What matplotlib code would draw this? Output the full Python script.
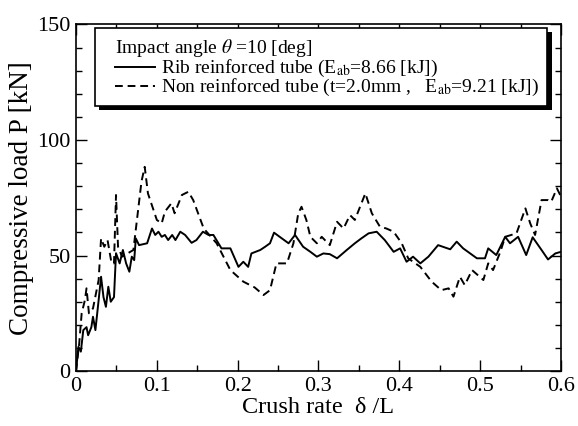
import numpy as np
import matplotlib
matplotlib.use('Agg')
import matplotlib.pyplot as plt
from matplotlib.ticker import MultipleLocator
from matplotlib.patches import Rectangle
from matplotlib.lines import Line2D

plt.rcParams['font.family'] = ['Liberation Serif', 'DejaVu Serif']
plt.rcParams['mathtext.fontset'] = 'stix'

# Rib reinforced tube (solid)
rib_x = [0, 0.003, 0.006, 0.009, 0.013, 0.015, 0.019, 0.021, 0.024, 0.028, 0.031, 0.034,
         0.037, 0.040, 0.043, 0.047, 0.0495, 0.054, 0.058, 0.062, 0.066, 0.069, 0.072, 0.074,
         0.078, 0.088, 0.094, 0.098, 0.102, 0.106, 0.110, 0.114, 0.119, 0.123, 0.129, 0.135,
         0.143, 0.149, 0.157, 0.164, 0.170, 0.180, 0.191, 0.201, 0.207, 0.213, 0.217, 0.228,
         0.234, 0.240, 0.245, 0.252, 0.263, 0.271, 0.281, 0.290, 0.298, 0.306, 0.314, 0.323,
         0.335, 0.345, 0.353, 0.362, 0.372, 0.382, 0.393, 0.401, 0.409, 0.417, 0.426, 0.436,
         0.448, 0.463, 0.471, 0.479, 0.496, 0.506, 0.510, 0.520, 0.531, 0.537, 0.547, 0.557,
         0.565, 0.576, 0.584, 0.593, 0.600]
rib_p = [0, 10.5, 8.4, 17.7, 19, 15.5, 19, 23.5, 17.7, 30.7, 40.8, 32,
         27.8, 36.5, 30, 32, 51, 46.6, 52.4, 46.6, 43, 49.5, 48, 57.4,
         54.5, 55.3, 61.7, 58.9, 60.3, 58.1, 58.9, 56.7, 58.9, 56.7, 60.3, 58.9,
         55.5, 56.7, 60.3, 58.9, 58.9, 53.1, 53.1, 45.1, 47.3, 45.1, 50.9, 52.4,
         53.8, 55.3, 59.9, 58.1, 55.3, 58.9, 53.8, 51.6, 49.5, 50.9, 50.6, 48.8,
         52.4, 55.3, 57.4, 59.6, 60.3, 56.7, 51.6, 53.1, 47.3, 49.5, 46.6, 49.5,
         54.5, 52.7, 56, 53.1, 48.8, 48.8, 53.1, 50.2, 58.1, 55.3, 58.1, 50.2,
         57.9, 52.4, 48.3, 50.9, 51.6]

# Non reinforced tube (dashed)
non_x = [0, 0.004, 0.007, 0.011, 0.013, 0.016, 0.021, 0.028, 0.031, 0.035, 0.039, 0.044,
         0.047, 0.0495, 0.052, 0.057, 0.071, 0.081, 0.085, 0.089, 0.100, 0.106, 0.110, 0.118,
         0.122, 0.131, 0.139, 0.145, 0.158, 0.174, 0.191, 0.207, 0.221, 0.232, 0.240, 0.248,
         0.261, 0.269, 0.275, 0.279, 0.285, 0.290, 0.298, 0.304, 0.314, 0.323, 0.331, 0.339,
         0.345, 0.358, 0.366, 0.376, 0.384, 0.393, 0.403, 0.411, 0.426, 0.440, 0.452, 0.461,
         0.467, 0.475, 0.481, 0.490, 0.504, 0.510, 0.516, 0.525, 0.531, 0.545, 0.556, 0.562,
         0.568, 0.576, 0.584, 0.588, 0.595, 0.600]
non_p = [0, 12, 25, 30.7, 35.8, 25, 27.1, 39.4, 57.4, 53.8, 56.7, 46.6,
         46.6, 76.2, 53.8, 49.5, 52.4, 82, 88.4, 76.9, 65.4, 63.9, 69, 72.6,
         68.3, 76.2, 77.6, 74, 61.7, 55.3, 43.7, 38.7, 36.2, 32.9, 35, 46.6,
         46.6, 55.3, 68.3, 71.1, 65.4, 58.1, 55.3, 58.1, 54.5, 64.6, 61.7, 67.5,
         65.4, 76.9, 68.3, 62.5, 61.7, 60.3, 55.3, 48.8, 45.1, 38.7, 35, 35.8,
         32.2, 40.8, 37.2, 43.7, 39.4, 46.6, 43.7, 51.6, 58.1, 59.6, 70.4, 63.9,
         58.9, 74, 74, 73.3, 79.1, 75.5]

title = 'Impact angle $\\theta$ =10 [deg]'
labels = ['Rib reinforced tube (E$_{\\rm ab}$=8.66 [kJ])',
          'Non reinforced tube (t=2.0mm ,   E$_{\\rm ab}$=9.21 [kJ])']

fig = plt.figure(figsize=(5.78, 4.26), dpi=100)
ax = fig.add_axes([0.1315, 0.129, 0.839, 0.8135])

dash = (0, (4, 2.5))
ax.plot(rib_x, rib_p, color='k', lw=1.4, ls='-')
ax.plot(non_x, non_p, color='k', lw=1.4, ls=dash)

ax.set_xlim(0, 0.6)
ax.set_ylim(0, 150)
ax.xaxis.set_major_locator(MultipleLocator(0.1))
ax.xaxis.set_minor_locator(MultipleLocator(0.05))
ax.yaxis.set_major_locator(MultipleLocator(50))
ax.yaxis.set_minor_locator(MultipleLocator(10))
ax.xaxis.set_major_formatter(plt.FuncFormatter(lambda v, p: '0' if v == 0 else ('%g' % round(v, 2))))
ax.tick_params(which='both', direction='in', top=True, right=True, width=1, labelsize=16)
ax.tick_params(which='major', length=8, pad=4)
ax.tick_params(which='minor', length=4)
for s in ax.spines.values():
    s.set_linewidth(1.2)

ax.set_xlabel('Crush rate  δ /L', fontsize=17.5, labelpad=1)
ax.set_ylabel('Compressive load P [kN]', fontsize=19.5, labelpad=2)

# legend box drawn by hand (with black drop shadow)
bx, by, bw, bh = 0.039, 0.765, 0.933, 0.224
ax.add_patch(Rectangle((bx + 0.009, by - 0.012), bw, bh, transform=ax.transAxes,
                       fc='k', ec='k', lw=0, zorder=5, clip_on=False))
ax.add_patch(Rectangle((bx, by), bw, bh, transform=ax.transAxes,
                       fc='white', ec='k', lw=1.2, zorder=6, clip_on=False))
ax.text(0.080, 0.918, title, transform=ax.transAxes, fontsize=14, va='baseline', zorder=7)
for yy, lab, st in [(0.860, labels[0], '-'), (0.805, labels[1], dash)]:
    ax.add_line(Line2D([0.080, 0.163], [yy + 0.017, yy + 0.017], transform=ax.transAxes,
                       color='k', lw=1.4, ls=st, zorder=7))
    ax.text(0.175, yy, lab, transform=ax.transAxes, fontsize=14, va='baseline', zorder=7)

fig.savefig('out.png', dpi=100)
